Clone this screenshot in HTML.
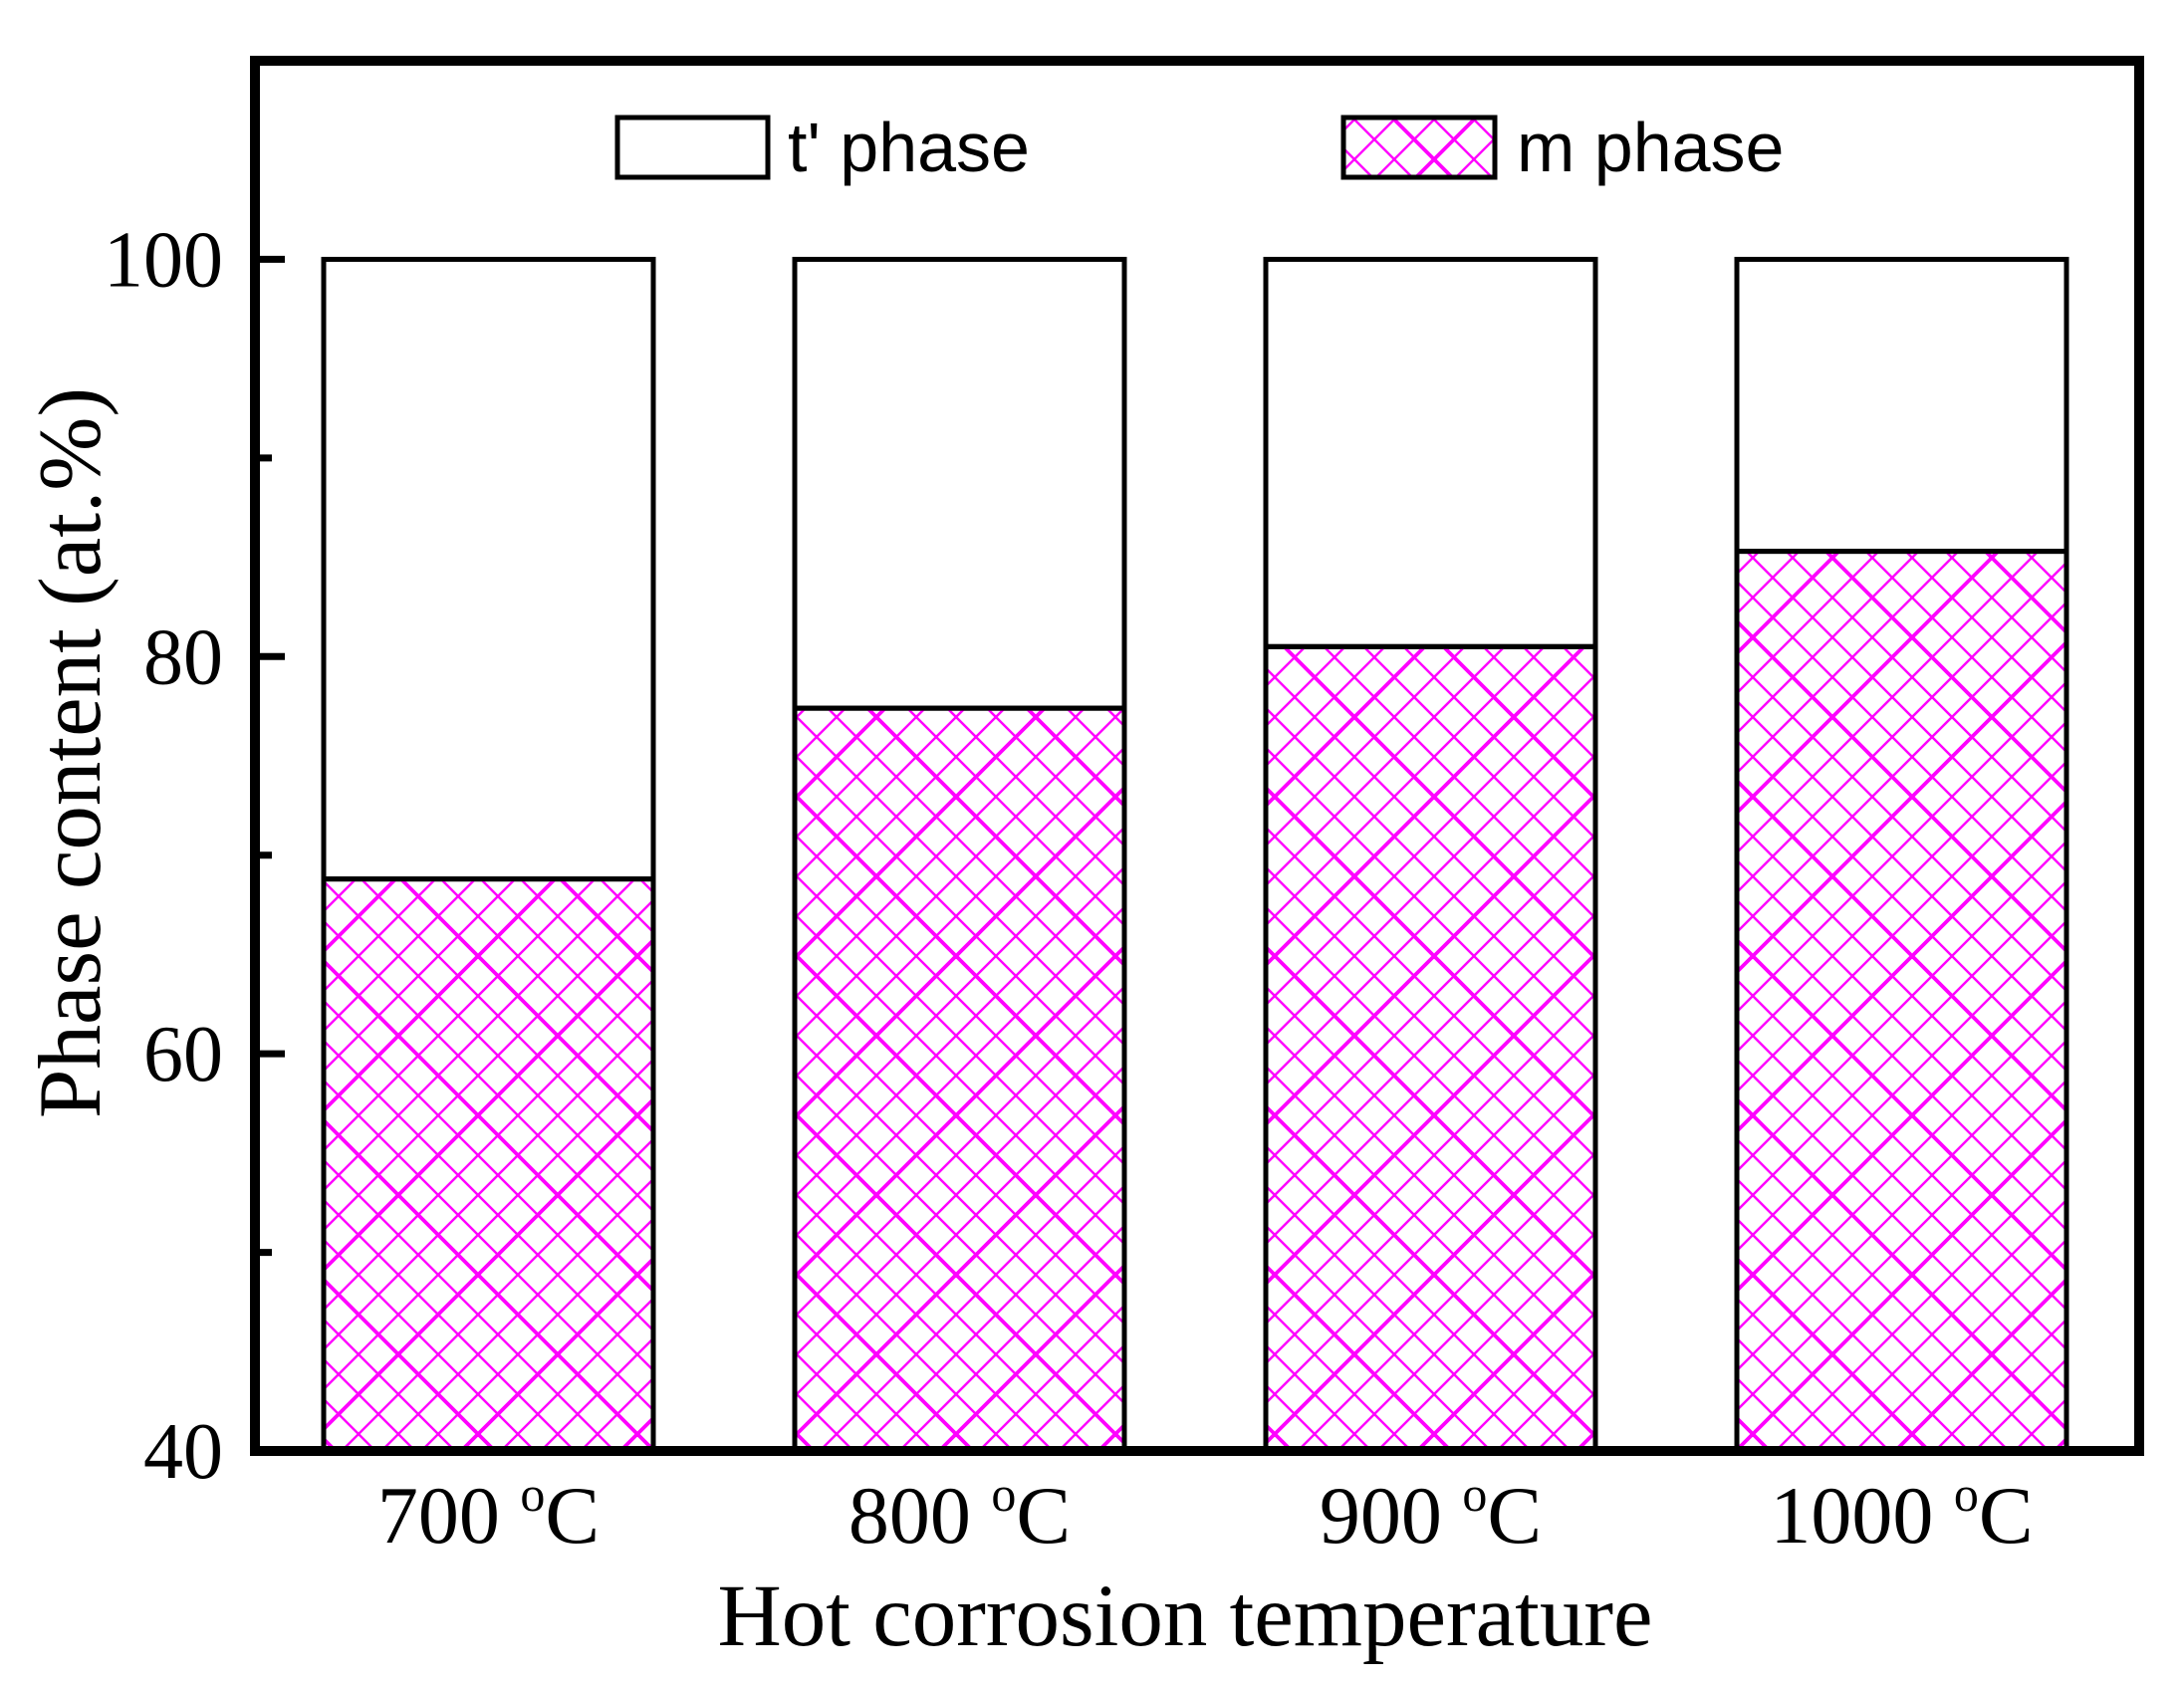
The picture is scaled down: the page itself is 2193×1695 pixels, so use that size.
<!DOCTYPE html>
<html><head><meta charset="utf-8"><style>
html,body{margin:0;padding:0;background:#fff;}
svg{display:block;}
</style></head><body>
<svg id="chart" width="2193" height="1695" viewBox="0 0 2193 1695" xmlns="http://www.w3.org/2000/svg">
<defs>
<pattern id="hatch" patternUnits="userSpaceOnUse" width="160" height="160">
  <g stroke="#ff00ff" stroke-width="2.4">
    <line x1="0" y1="0" x2="160" y2="160"/><line x1="40" y1="0" x2="160" y2="120"/><line x1="80" y1="0" x2="160" y2="80"/><line x1="120" y1="0" x2="160" y2="40"/>
    <line x1="0" y1="40" x2="120" y2="160"/><line x1="0" y1="80" x2="80" y2="160"/><line x1="0" y1="120" x2="40" y2="160"/>
    <line x1="160" y1="0" x2="0" y2="160"/><line x1="120" y1="0" x2="0" y2="120"/><line x1="80" y1="0" x2="0" y2="80"/><line x1="40" y1="0" x2="0" y2="40"/>
    <line x1="160" y1="40" x2="40" y2="160"/><line x1="160" y1="80" x2="80" y2="160"/><line x1="160" y1="120" x2="120" y2="160"/>
  </g>
  <g stroke="#ff00ff" stroke-width="3.8">
    <line x1="0" y1="0" x2="160" y2="160"/><line x1="160" y1="0" x2="0" y2="160"/>
  </g>
</pattern>
</defs>
<g id="plot"></g>
<g>
  <rect x="620" y="118" width="151" height="60" fill="#fff" stroke="#000" stroke-width="5"/>
  <text x="791" y="172" font-family="Liberation Sans, sans-serif" font-size="70">t' phase</text>
  <rect x="1349" y="118" width="152" height="60" fill="url(#hatch)" stroke="#000" stroke-width="5"/>
  <text x="1523" y="172" font-family="Liberation Sans, sans-serif" font-size="70">m phase</text>
</g>
<text x="1190" y="1652" text-anchor="middle" font-family="Liberation Serif, serif" font-size="89">Hot corrosion temperature</text>
<text transform="translate(100,756) rotate(-90)" text-anchor="middle" font-family="Liberation Serif, serif" font-size="89">Phase content (at.%)</text>
</svg>
<script>
const categories = ["700", "800", "900", "1000"];
const mPhase = [68.8, 77.4, 80.5, 85.3];
const tPhaseTop = [100, 100, 100, 100];
const yTicks = [40, 60, 80, 100];
const yMinor = [50, 70, 90];

const NS = "http://www.w3.org/2000/svg";
const L = 256, R = 2148, T = 61, B = 1457;
const yMin = 40, yMax = 110;
function y(v){ return B - (v - yMin) / (yMax - yMin) * (B - T); }
const band = (R - L) / categories.length;
const barW = 331;
function xc(i){ return L + band * (i + 0.5) - 2; }
const plot = document.getElementById('plot');
function mk(tag, attrs){ const e = document.createElementNS(NS, tag); for (const k in attrs) e.setAttribute(k, attrs[k]); plot.appendChild(e); return e; }

categories.forEach((c, i) => {
  const x0 = xc(i) - barW / 2;
  const t = mk('rect', {x: x0, y: y(tPhaseTop[i]), width: barW, height: y(mPhase[i]) - y(tPhaseTop[i]), fill: '#fff', stroke: '#000', 'stroke-width': 5});
  
  
  const m = mk('rect', {x: x0, y: y(mPhase[i]), width: barW, height: B - y(mPhase[i]), fill: 'url(#hatch)', stroke: '#000', 'stroke-width': 5});
  
  
  const lab = mk('text', {x: xc(i), y: 1549, 'text-anchor': 'middle', 'font-family': 'Liberation Serif, serif', 'font-size': 82});
  
  
  lab.innerHTML = c + ' <tspan font-size="50" dy="-32">o</tspan><tspan dy="32">C</tspan>';
});

yTicks.forEach(v => {
  const tk = mk('line', {x1: L, x2: L + 30, y1: y(v), y2: y(v), stroke: '#000', 'stroke-width': 7});
  
  
  const tl = mk('text', {x: 224, y: y(v) + 27, 'text-anchor': 'end', 'font-family': 'Liberation Serif, serif', 'font-size': 80});
  
  
  tl.textContent = v;
});
yMinor.forEach(v => {
  const tk = mk('line', {x1: L, x2: L + 17, y1: y(v), y2: y(v), stroke: '#000', 'stroke-width': 7});
  
  
});
const frame = mk('rect', {x: L, y: T, width: R - L, height: B - T, fill: 'none', stroke: '#000', 'stroke-width': 10});


</script>
</body></html>
